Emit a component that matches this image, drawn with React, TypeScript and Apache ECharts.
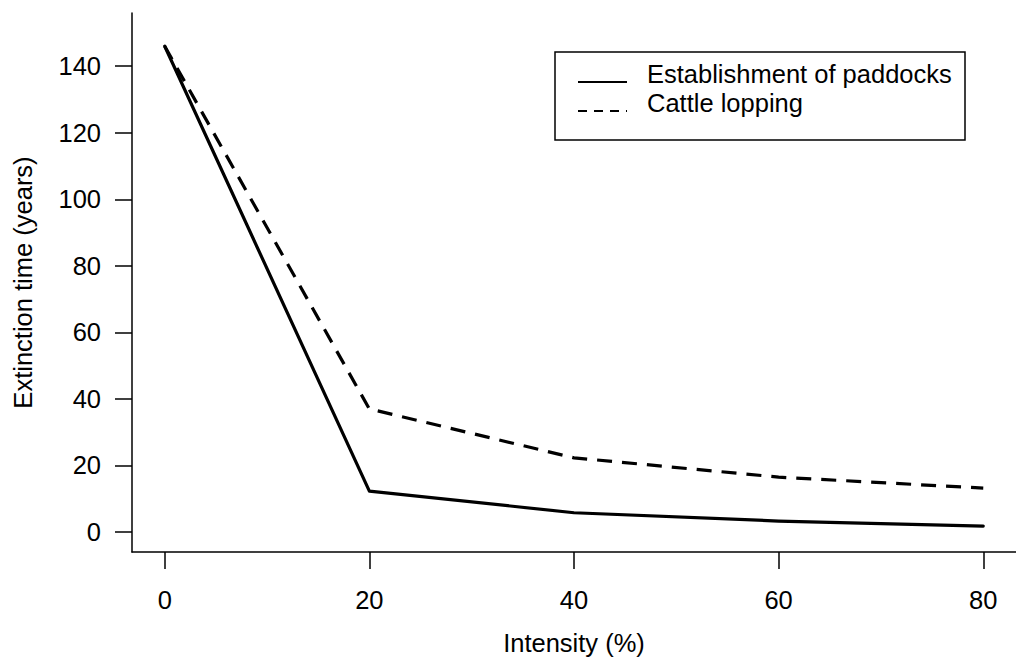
import React, { useEffect, useRef } from "react";
import * as echarts from "echarts";

const intensity = [0, 20, 40, 60, 80];
const paddocks = [146, 12.3, 5.8, 3.3, 1.8];
const lopping = [146, 37, 22.3, 16.5, 13.2];
const seriesNames = ["Establishment of paddocks", "Cattle lopping"];
const xTicks = [0, 20, 40, 60, 80];
const yTicks = [0, 20, 40, 60, 80, 100, 120, 140];
const xTitle = "Intensity (%)";
const yTitle = "Extinction time (years)";

const FONT = "'Liberation Sans', Arial, Helvetica, sans-serif";
const FS = 25.5;
const INK = "#000";

export default function App() {
  const ref = useRef<HTMLDivElement>(null);
  useEffect(() => {
    if (!ref.current) return;
    const chart = echarts.init(ref.current, undefined, { renderer: "svg" });
    const pairs = (ys: number[]) => intensity.map((x, i) => [x, ys[i]]);
    chart.setOption({
      animation: false,
      backgroundColor: "#fff",
      textStyle: { fontFamily: FONT },
      grid: { left: 132, top: 13, width: 897, height: 547, containLabel: false },
      xAxis: {
        type: "value",
        min: -3.2,
        max: 83.2,
        splitLine: { show: false },
        axisLine: { show: true, onZero: false, lineStyle: { color: INK, width: 1.5 } },
        axisTick: { show: true, length: 17, customValues: xTicks, lineStyle: { color: INK, width: 1.5 } },
        axisLabel: { customValues: xTicks, fontSize: FS, color: INK, fontFamily: FONT, margin: 35 },
        name: xTitle,
        nameLocation: "middle",
        nameGap: 78,
        nameTextStyle: { fontSize: FS, color: INK, fontFamily: FONT },
      },
      yAxis: {
        type: "value",
        min: -6,
        max: 156,
        splitLine: { show: false },
        axisLine: { show: true, onZero: false, lineStyle: { color: INK, width: 1.5 } },
        axisTick: { show: true, length: 17, customValues: yTicks, lineStyle: { color: INK, width: 1.5 } },
        axisLabel: { customValues: yTicks, fontSize: FS, color: INK, fontFamily: FONT, margin: 31 },
        name: yTitle,
        nameLocation: "middle",
        nameRotate: 90,
        nameGap: 96,
        nameTextStyle: { fontSize: FS, color: INK, fontFamily: FONT },
      },
      series: [
        {
          name: seriesNames[0],
          type: "line",
          data: pairs(paddocks),
          symbol: "none",
          lineStyle: { color: INK, width: 3.2, type: "solid", join: "round", cap: "round" },
        },
        {
          name: seriesNames[1],
          type: "line",
          data: pairs(lopping),
          symbol: "none",
          lineStyle: { color: INK, width: 3.2, type: [15, 10], join: "round" },
        },
      ],
      graphic: [
        {
          type: "rect",
          shape: { x: 555, y: 52, width: 410, height: 88 },
          style: { fill: "#fff", stroke: INK, lineWidth: 1.5 },
          z: 100,
        },
        {
          type: "line",
          shape: { x1: 578, y1: 82, x2: 627, y2: 82 },
          style: { stroke: INK, lineWidth: 2 },
          z: 101,
        },
        {
          type: "line",
          shape: { x1: 578, y1: 111, x2: 627, y2: 111 },
          style: { stroke: INK, lineWidth: 2, lineDash: [9, 7] },
          z: 101,
        },
        {
          type: "text",
          x: 647,
          y: 74,
          style: { text: seriesNames[0], fontSize: FS, fontFamily: FONT, fill: INK, verticalAlign: "middle" },
          z: 101,
        },
        {
          type: "text",
          x: 647,
          y: 103,
          style: { text: seriesNames[1], fontSize: FS, fontFamily: FONT, fill: INK, verticalAlign: "middle" },
          z: 101,
        },
      ],
    });
    return () => chart.dispose();
  }, []);
  return (
    <div
      ref={ref}
      style={{ position: "fixed", left: 0, top: 0, width: 1016, height: 661, background: "#fff" }}
    />
  );
}
